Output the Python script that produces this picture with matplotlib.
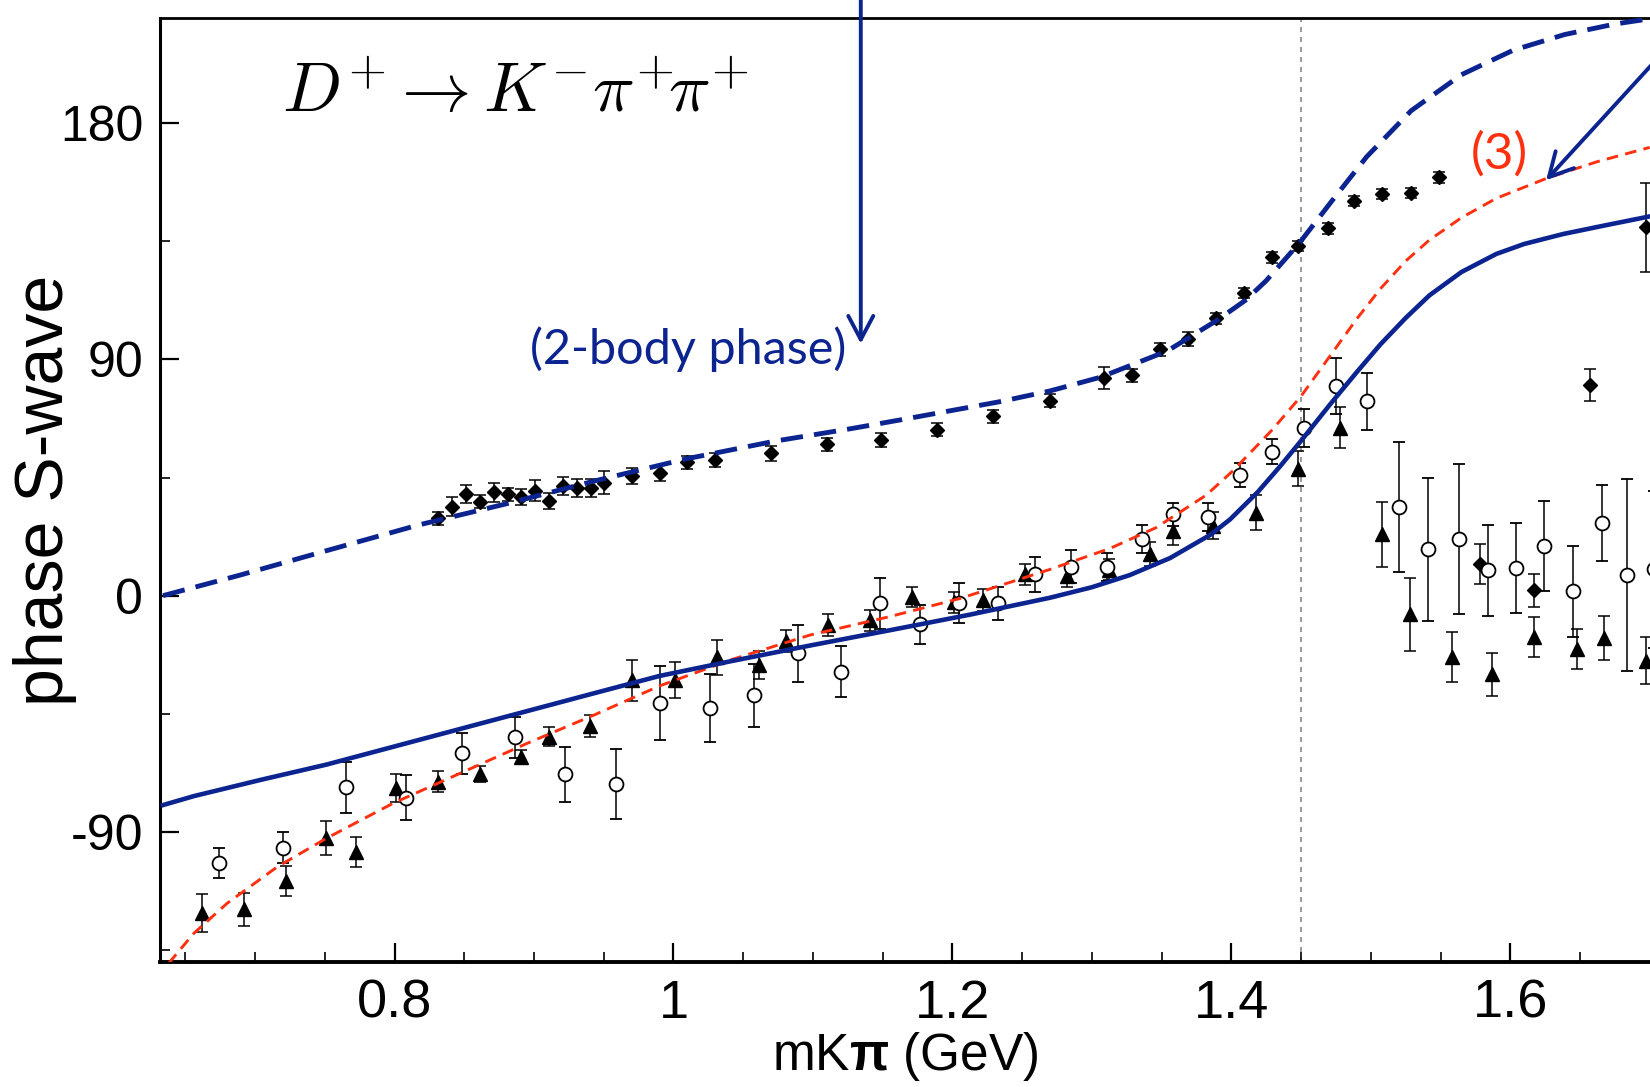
import numpy as np
import matplotlib
matplotlib.use("Agg")
import matplotlib.pyplot as plt

plt.rcParams['font.family'] = ['Liberation Sans', 'DejaVu Sans']
plt.rcParams['axes.unicode_minus'] = False
plt.rcParams['mathtext.fontset'] = 'custom'
plt.rcParams['mathtext.rm'] = 'Liberation Sans'
plt.rcParams['mathtext.bf'] = 'Liberation Sans:bold'

NAVY = '#0c2490'
RED = '#ff3010'

# data
# diamonds (upper data set)
dia_x = [0.831, 0.841, 0.851, 0.861, 0.871, 0.881, 0.891, 0.901, 0.911, 0.921, 0.931, 0.941, 0.950,
         0.970, 0.990, 1.010, 1.030, 1.070, 1.110, 1.149, 1.189, 1.229, 1.270,
         1.309, 1.329, 1.349, 1.369, 1.389, 1.409, 1.429, 1.448, 1.469, 1.488, 1.508, 1.529, 1.549,
         1.578, 1.617, 1.657, 1.697]
dia_y = [29.4, 33.9, 38.7, 35.8, 39.3, 38.6, 37.7, 40.0, 36.0, 41.8, 40.9, 40.9, 43.1,
         45.7, 46.8, 50.8, 51.7, 54.2, 57.6, 59.3, 63.3, 68.4, 74.2,
         83.1, 84.0, 93.8, 97.8, 105.6, 115.3, 128.9, 133.2, 139.9, 150.3, 153.0, 153.4, 159.4,
         12.0, 2.0, 80.2, 140.3]
dia_err = [2.5, 3.5, 3.5, 2.5, 3.5, 2.5, 3.0, 4.0, 3.0, 3.5, 3.5, 3.5, 4.5,
           3.0, 3.0, 2.5, 2.5, 3.0, 2.5, 2.5, 2.5, 2.5, 2.5,
           4.2, 2.5, 2.5, 2.5, 2.0, 2.0, 2.0, 2.0, 2.0, 2.0, 2.0, 2.0, 2.0,
           7.7, 6.4, 6.0, 17.0]

# open circles
circ_x = [0.674, 0.720, 0.765, 0.808, 0.848, 0.886, 0.922, 0.959, 0.990, 1.026, 1.058, 1.089,
          1.120, 1.148, 1.177, 1.205, 1.233, 1.259, 1.285, 1.311, 1.336, 1.358, 1.383, 1.406,
          1.429, 1.452, 1.475, 1.497, 1.520, 1.541, 1.563, 1.584, 1.604, 1.624, 1.645, 1.666,
          1.684, 1.703]
circ_y = [-102.0, -96.0, -73.0, -77.0, -60.1, -54.0, -68.0, -71.9, -41.0, -42.9, -37.9, -22.0,
          -29.0, -2.9, -10.9, -2.9, -2.9, 8.1, 11.0, 11.0, 21.6, 31.0, 30.0, 46.1,
          54.9, 63.9, 80.0, 74.0, 33.8, 17.7, 21.7, 9.6, 10.6, 18.8, 1.6, 27.7,
          7.8, 10.0]
circ_err = [5.7, 5.8, 9.7, 8.6, 7.9, 7.8, 10.5, 13.4, 14.0, 13.0, 12.0, 10.8,
            9.8, 9.8, 7.5, 7.6, 6.3, 6.7, 6.3, 5.4, 5.3, 4.4, 5.3, 4.6,
            4.6, 7.3, 10.7, 10.9, 24.8, 27.2, 28.6, 17.2, 17.2, 17.1, 17.3, 14.4,
            36.7, 30.0]

# filled triangles
tri_x = [0.662, 0.692, 0.722, 0.751, 0.772, 0.801, 0.831, 0.861, 0.891, 0.911, 0.940, 0.970,
         1.001, 1.031, 1.061, 1.081, 1.111, 1.141, 1.171, 1.201, 1.222, 1.252, 1.282, 1.312,
         1.342, 1.358, 1.387, 1.418, 1.448, 1.478, 1.508, 1.528, 1.558, 1.587, 1.617, 1.648,
         1.667, 1.697]
tri_y = [-121.0, -119.5, -108.7, -92.2, -97.6, -73.2, -70.9, -68.0, -61.4, -53.8, -49.7, -32.2,
         -32.2, -23.5, -26.4, -17.3, -11.2, -9.3, -0.7, -2.6, -1.7, 8.1, 7.4, 9.8,
         16.0, 24.5, 26.7, 31.6, 48.4, 64.0, 23.4, -7.1, -23.4, -30.0, -15.8, -20.2,
         -16.2, -24.8]
tri_err = [7.2, 6.3, 5.7, 6.5, 5.8, 5.4, 4.0, 3.0, 2.7, 3.6, 4.1, 7.8,
           6.8, 6.7, 5.4, 4.2, 4.3, 4.0, 3.8, 4.0, 4.1, 4.1, 4.3, 4.0,
           4.6, 5.1, 5.1, 6.6, 6.6, 7.9, 12.3, 13.9, 9.6, 8.3, 7.6, 7.6,
           8.5, 9.0]

# curves
twobody_x = [0.634, 0.689, 0.753, 0.817, 0.881, 0.945, 1.009, 1.073, 1.127, 1.162, 1.234, 1.270,
             1.306, 1.330, 1.354, 1.390, 1.410, 1.425, 1.449, 1.473, 1.497, 1.529, 1.565, 1.602,
             1.639, 1.675, 1.700]
twobody_y = [0.0, 7.8, 17.4, 26.9, 35.1, 43.9, 52.1, 58.9, 63.6, 66.9, 73.9, 78.0,
             83.2, 88.2, 93.2, 105.0, 112.5, 120.0, 134.5, 151.0, 167.2, 184.8, 198.5, 207.8,
             213.8, 217.8, 219.8]

model3_x = [0.638, 0.656, 0.680, 0.716, 0.751, 0.799, 0.847, 0.895, 0.943, 0.990, 1.041, 1.098,
            1.155, 1.206, 1.270, 1.313, 1.346, 1.382, 1.401, 1.429, 1.450, 1.471, 1.490, 1.507,
            1.525, 1.542, 1.565, 1.590, 1.626, 1.662, 1.700]
model3_y = [-140.1, -128.7, -117.2, -103.3, -92.5, -79.1, -67.7, -56.3, -45.5, -34.4, -24.5, -15.0,
            -8.0, -1.0, 10.0, 18.0, 25.9, 38.3, 47.5, 63.0, 76.0, 91.5, 105.5, 117.0,
            127.5, 135.5, 144.0, 151.4, 159.0, 165.3, 170.8]

full_x = [0.634, 0.656, 0.704, 0.751, 0.799, 0.847, 0.895, 0.943, 0.990, 1.041, 1.098, 1.155,
          1.213, 1.270, 1.300, 1.327, 1.356, 1.385, 1.399, 1.419, 1.435, 1.450, 1.471, 1.490,
          1.507, 1.525, 1.542, 1.565, 1.590, 1.610, 1.638, 1.670, 1.700]
full_y = [-79.8, -76.4, -70.2, -64.4, -57.6, -50.8, -44.0, -37.2, -30.6, -25.0, -19.0, -13.2,
          -7.2, -0.8, 3.2, 7.8, 14.3, 23.2, 29.0, 39.5, 49.3, 59.0, 73.0, 85.2,
          95.8, 105.8, 114.4, 123.3, 130.2, 134.0, 137.8, 141.3, 144.5]

xticks = [0.8, 1.0, 1.2, 1.4, 1.6]
xtick_labels = ['0.8', '1', '1.2', '1.4', '1.6']
yticks = [-90, 0, 90, 180]
ytick_labels = ['-90', '0', '90', '180']

fig = plt.figure(figsize=(16.5, 10.87), dpi=100)
ax = fig.add_axes([160 / 1650, 125 / 1087, 1490 / 1650, 944 / 1087])

ax.axvline(1.45, color='#8a8a8a', lw=1.2, ls=(0, (3, 3)), zorder=1)

eb = dict(color='k', ecolor='k', elinewidth=1.1, capsize=4.5, capthick=1.1, ls='none', zorder=2)
ax.errorbar(dia_x, dia_y, yerr=dia_err, fmt='D', ms=7, **eb)
ax.errorbar(tri_x, tri_y, yerr=tri_err, fmt='^', ms=10, **eb)
ax.errorbar(circ_x, circ_y, yerr=circ_err, fmt='o', ms=10, mfc='white', mec='k', mew=1.3, **eb)

ax.plot(twobody_x, twobody_y, color=NAVY, lw=3.5, dashes=(4.6, 2.3), zorder=3)
ax.plot(model3_x, model3_y, color=RED, lw=2.1, dashes=(4.0, 2.5), zorder=3)
ax.plot(full_x, full_y, color=NAVY, lw=3.3, zorder=3)

ax.set_xlim(0.6318, 1.7002)
ax.set_ylim(-139.6, 220.1)

ax.set_xticks(xticks, xtick_labels, fontsize=39)
ax.set_yticks(yticks, ytick_labels, fontsize=36)
ax.set_xticks(np.arange(0.65, 1.70, 0.05), minor=True)
ax.set_yticks([-135, -45, 45, 135], minor=True)
ax.tick_params(which='major', direction='in', length=14, width=1.6, pad=12)
ax.tick_params(which='minor', direction='in', length=7, width=1.2)
ax.tick_params(top=False, right=False)

ax.spines['right'].set_visible(False)
ax.spines['left'].set_linewidth(2.2)
ax.spines['top'].set_linewidth(2.0)
ax.spines['bottom'].set_linewidth(2.8)

ax.set_xlabel(r'mK$\mathbf{\pi}$ (GeV)', fontsize=37, labelpad=1)
ax.set_ylabel('phase S-wave', fontsize=49)
ax.yaxis.set_label_coords(-0.056, 0.5)

ax.text(0.7193, 184, r'$D^{\!+}\!\rightarrow K^{\!-}\!\pi^{+}\!\pi^{+}$', fontsize=50,
        math_fontfamily='cm', ha='left', va='baseline')
ax.text(1.124, 94, '(2-body phase)', fontsize=35, color=NAVY, family=['Lato', 'DejaVu Sans'],
        ha='right', va='center')
ax.text(1.5925, 168, '(3)', fontsize=37, color=RED, family=['Lato', 'DejaVu Sans'],
        ha='center', va='center')

arrow = dict(arrowstyle='->,head_length=0.85,head_width=0.45', color=NAVY, lw=2.8,
             mutation_scale=20, shrinkA=0, shrinkB=0)
ax.annotate('', xy=(1.1343, 96), xytext=(1.1343, 240), arrowprops=arrow, annotation_clip=False)
ax.annotate('', xy=(1.6257, 158.3), xytext=(1.74, 224.7), arrowprops=arrow, annotation_clip=False)

fig.savefig('out.png', dpi=100)
